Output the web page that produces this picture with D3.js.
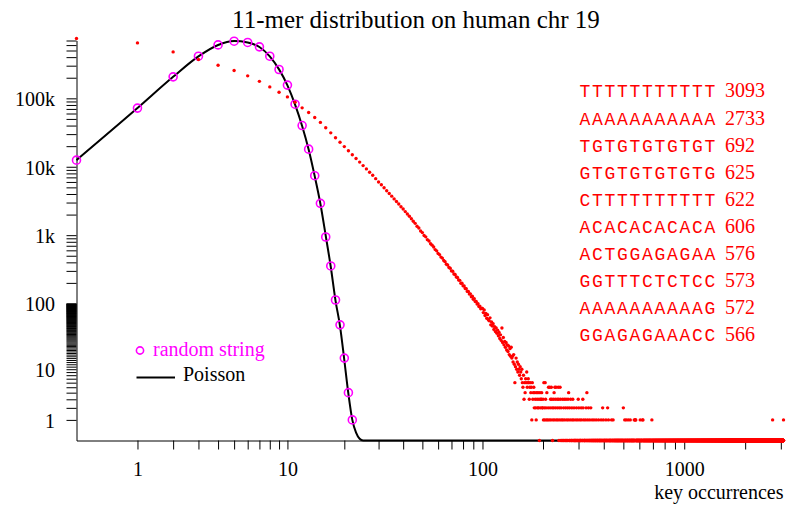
<!DOCTYPE html>
<html>
<head>
<meta charset="utf-8">
<script src="https://cdn.jsdelivr.net/npm/d3@7"></script>
<style>
body { margin: 0; background: #fff; }
</style>
</head>
<body>
<div id="chart-area"></div>
<script>
const WIDTH = 786
const HEIGHT = 505
const PLOT = { LEFT: 76.5, RIGHT: 783.5, TOP: 40.5, BOTTOM: 440.5 }
const SERIF = "'Liberation Serif', 'Times New Roman', serif"
const MONO = "'Liberation Mono', 'Courier New', monospace"

// k-mer counts for chr 19, index = key occurrences (k = 0..200)
const chrCounts = [
	749000, 646000, 477000, 370000, 305000, 255000, 213000, 177000, 147000, 123000,
	105000, 88000, 72600, 62000, 52600, 44500, 37200, 31300, 26600, 22800,
	19700, 17100, 15000, 13200, 11700, 10400, 9300, 8300, 7500, 6700,
	6000, 5450, 4930, 4470, 4070, 3720, 3390, 3100, 2850, 2610,
	2410, 2210, 2040, 1890, 1740, 1600, 1490, 1350, 1270, 1150,
	1090, 990, 945, 860, 820, 750, 715, 670, 615, 590,
	540, 520, 478, 462, 425, 410, 376, 366, 336, 328,
	300, 296, 270, 266, 244, 240, 220, 218, 198, 198,
	181, 180, 165, 164, 150, 150, 137, 138, 125, 127,
	115, 117, 106, 107, 98, 99, 90, 91, 83, 85,
	84, 73, 80, 66, 71, 60, 68, 57, 55, 61,
	48, 53, 46, 50, 41, 45, 38, 43, 36, 40,
	33, 37, 30, 34, 28, 43, 26, 31, 24, 27,
	22, 26, 20, 24, 19, 23, 17, 21, 16, 22,
	15, 16, 13, 17, 12, 6, 11, 15, 10, 13,
	9, 12, 10, 8, 11, 9, 7, 10, 6, 5,
	8, 3, 6, 4, 7, 6, 9, 5, 6, 7,
	6, 3, 5, 6, 4, 5, 1, 6, 3, 4,
	5, 2, 4, 3, 2, 1, 4, 3, 2, 4,
	2, 3, 0, 4, 2, 3, 3, 4, 2, 2,
	3
]
// sparse tail (k > 200): keys seen with 0..6 occurrences
const tailOnes = [201, 204, 208, 211, 215, 219, 224, 228, 233, 237, 242, 247, 251, 256, 262, 267, 273, 279, 284, 291,
	297, 304, 310, 318, 325, 333, 341, 350, 358, 367, 377, 388, 398, 410, 422, 437, 445, 508, 517, 529, 541,
	566, 572, 573, 576, 606, 622, 625, 692, 2733, 3093]
const tailTwos = [203, 207, 212, 217, 222, 226, 231, 236, 241, 246, 253, 259, 265, 271, 278, 285, 293, 301, 309, 316,
	327, 336, 345, 395, 418, 500]
const tailThrees = [206, 218, 221, 225, 230, 235, 239, 244, 250, 255, 260, 266, 274, 281, 299, 315]
const tailFours = [209, 227, 268, 330]
const tailFives = [213, 216, 220, 229, 232, 238, 243]
const tailSixes = [202, 205]
const tailZeros = [223]
const zeroFrom = 240
const maxKey = 3093

// random string histogram, k = 0..22
const randomCounts = [12500, 72000, 206000, 413000, 604000, 684000, 655000, 565000, 413000, 264000,
	156000, 82000, 40000, 18100, 7400, 2920, 940, 354, 112, 48, 15, 4, 1]
// Poisson expectation, k = 0..25
const poissonCounts = [12500, 72000, 206000, 410000, 602000, 686000, 655000, 562000, 411000, 265000,
	155000, 81000, 39500, 17900, 7300, 2880, 980, 345, 110, 46, 14, 3.8, 1, 0.3, 0.06, 0]

// most frequent 11-mers
const topKeys = ["TTTTTTTTTTT", "AAAAAAAAAAA", "TGTGTGTGTGT", "GTGTGTGTGTG", "CTTTTTTTTTT",
	"ACACACACACA", "ACTGGAGAGAA", "GGTTTCTCTCC", "AAAAAAAAAAG", "GGAGAGAAACC"]
const topCounts = [3093, 2733, 692, 625, 622, 606, 576, 573, 572, 566]

const xLabels = [1, 10, 100, 1000]
const yLabels = { 1: "1", 10: "10", 100: "100", 1000: "1k", 10000: "10k", 100000: "100k" }

const svg = d3.select("#chart-area").append("svg")
	.attr("width", WIDTH)
	.attr("height", HEIGHT)
	.style("font-family", SERIF)

// log(1 + v) scales
const x = d3.scaleSymlog().constant(1).domain([0, maxKey]).range([PLOT.LEFT, PLOT.RIGHT])
const y = d3.scaleSymlog().constant(1).domain([0, 700000]).range([PLOT.BOTTOM, PLOT.TOP])

// tick positions
const xTicks = []
;[1, 10, 100, 1000].forEach(d => {
	for (let m = 1; m <= 9; m++) if (m * d <= maxKey) xTicks.push(m * d)
})
const yTicks = d3.range(1, 100)
;[100, 1000, 10000, 100000].forEach(d => {
	for (let m = 1; m <= 9; m++) if (m * d <= 700000) yTicks.push(m * d)
})

const xAxis = svg.append("g")
	.attr("transform", `translate(0, ${PLOT.BOTTOM})`)
	.call(d3.axisBottom(x).tickValues(xTicks).tickSize(9).tickSizeOuter(0)
		.tickFormat(d => xLabels.includes(d) ? d : ""))
xAxis.attr("font-family", null).attr("font-size", 20)
xAxis.selectAll("text").attr("y", 35).attr("dy", 0)

const yAxis = svg.append("g")
	.attr("transform", `translate(${PLOT.LEFT}, 0)`)
	.call(d3.axisLeft(y).tickValues(yTicks).tickSize(10).tickPadding(11.5).tickSizeOuter(0)
		.tickFormat(d => yLabels[d] || ""))
yAxis.attr("font-family", null).attr("font-size", 20)
yAxis.selectAll("text").attr("dy", "0.38em")

// axis label + title
svg.append("text")
	.attr("x", PLOT.RIGHT)
	.attr("y", 499)
	.attr("text-anchor", "end")
	.attr("font-size", 20)
	.text("key occurrences")

svg.append("text")
	.attr("x", 416)
	.attr("y", 28)
	.attr("text-anchor", "middle")
	.attr("font-size", 25)
	.text("11-mer distribution on human chr 19")

// Poisson line
const poissonData = poissonCounts.map((c, k) => ({ k, c }))
poissonData.push({ k: maxKey, c: 0 })
const line = d3.line()
	.x(d => x(d.k))
	.y(d => y(d.c))
	.curve(d3.curveMonotoneX)
svg.append("path")
	.attr("fill", "none")
	.attr("stroke", "black")
	.attr("stroke-width", 2)
	.attr("d", line(poissonData))

// random string circles
svg.selectAll(".rnd").data(randomCounts).enter().append("circle")
	.attr("class", "rnd")
	.attr("cx", (d, k) => x(k))
	.attr("cy", d => y(d))
	.attr("r", 4)
	.attr("fill", "none")
	.attr("stroke", "#ff00ff")
	.attr("stroke-width", 1.6)

// chr 19 points
const redData = chrCounts.map((c, k) => ({ k, c }))
const tails = [tailZeros, tailOnes, tailTwos, tailThrees, tailFours, tailFives, tailSixes]
const seen = new Set()
tails.forEach((keys, c) => keys.forEach(k => { redData.push({ k, c }); seen.add(k) }))
for (let k = zeroFrom; k <= maxKey; k++) {
	if (!seen.has(k)) redData.push({ k, c: 0 })
}
svg.append("g").selectAll("circle").data(redData).enter().append("circle")
	.attr("cx", d => x(d.k))
	.attr("cy", d => y(d.c))
	.attr("r", 1.7)
	.attr("fill", "red")

// legend
svg.append("circle")
	.attr("cx", 140)
	.attr("cy", 350.5)
	.attr("r", 3.6)
	.attr("fill", "none")
	.attr("stroke", "#ff00ff")
	.attr("stroke-width", 1.6)
svg.append("text")
	.attr("x", 153)
	.attr("y", 356)
	.attr("font-size", 20)
	.attr("fill", "#ff00ff")
	.text("random string")
svg.append("line")
	.attr("x1", 136.5).attr("x2", 175)
	.attr("y1", 377.5).attr("y2", 377.5)
	.attr("stroke", "black")
	.attr("stroke-width", 2)
svg.append("text")
	.attr("x", 183)
	.attr("y", 380.5)
	.attr("font-size", 20)
	.text("Poisson")

// top keys list
const keyRows = svg.append("g").selectAll("g").data(topKeys).enter().append("g")
	.attr("transform", (d, i) => `translate(579.5, ${97.4 + i * 27.1})`)
keyRows.append("text")
	.style("font-family", MONO)
	.attr("font-size", 18)
	.attr("letter-spacing", 1.7)
	.attr("fill", "red")
	.text(d => d)
keyRows.append("text")
	.attr("x", 145.5)
	.attr("font-size", 20)
	.attr("fill", "red")
	.text((d, i) => topCounts[i])
</script>
</body>
</html>
